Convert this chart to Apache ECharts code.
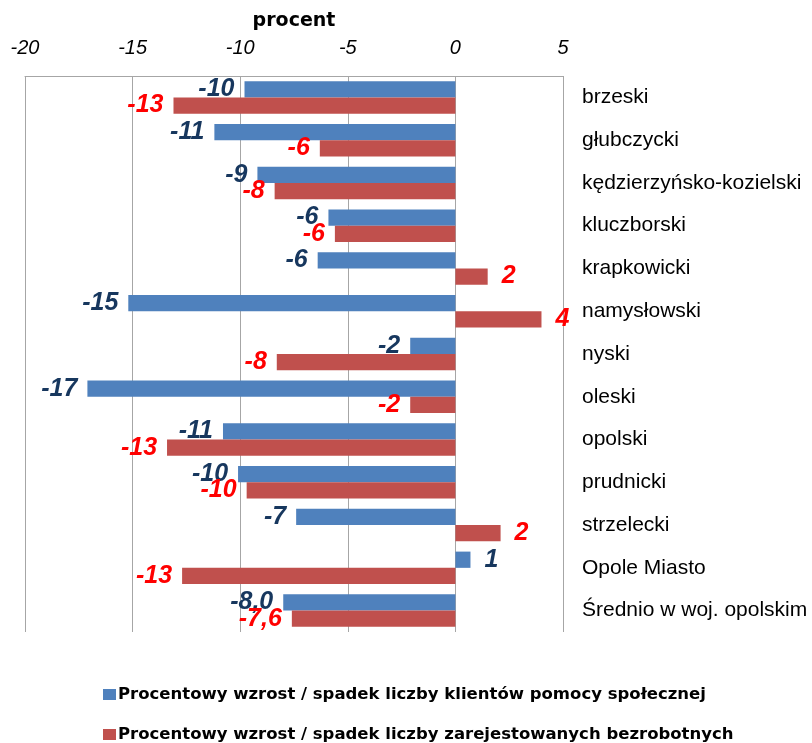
<!DOCTYPE html>
<html>
<head>
<meta charset="utf-8">
<script src="https://cdn.jsdelivr.net/npm/echarts@6/dist/echarts.min.js"></script>
<style>html,body{margin:0;padding:0;background:#fff}#c{width:812px;height:743px}</style>
</head>
<body>
<div id="c"></div>
<script>
var categories = ['brzeski','głubczycki','kędzierzyńsko-kozielski','kluczborski','krapkowicki','namysłowski','nyski','oleski','opolski','prudnicki','strzelecki','Opole Miasto','Średnio w woj. opolskim'];
var seriesNames = ['Procentowy wzrost / spadek liczby klientów pomocy społecznej','Procentowy wzrost / spadek liczby zarejestowanych bezrobotnych'];
var klienci = [-9.8, -11.2, -9.2, -5.9, -6.4, -15.2, -2.1, -17.1, -10.8, -10.1, -7.4, 0.7, -8.0];
var bezrobotni = [-13.1, -6.3, -8.4, -5.6, 1.5, 4.0, -8.3, -2.1, -13.4, -9.7, 2.1, -12.7, -7.6];
var xTicks = [-20, -15, -10, -5, 0, 5];

function fmt(params){
  var v = params.value;
  if (params.dataIndex === categories.length - 1) return v.toFixed(1).replace('.', ',');
  return String(Math.round(v));
}
function build(arr){
  return arr.map(function(v){
    return {value: v, label: {position: v < 0 ? 'left' : 'right', distance: v < 0 ? 10 : 14}};
  });
}
var legendText = {fontFamily: 'DejaVu Sans', fontWeight: 'bold', fontSize: 16.5, color: '#000', padding: [0, 0, 0, -3]};
var chart = echarts.init(document.getElementById('c'));
chart.setOption({
  backgroundColor: '#fff',
  animation: false,
  grid: {left: 25, right: 249, top: 76, bottom: 111, containLabel: false},
  legend: [
    {left: 98, top: 681, itemWidth: 13, itemHeight: 11, itemGap: 0, icon: 'rect', textStyle: legendText, data: [seriesNames[0]]},
    {left: 98, top: 721, itemWidth: 13, itemHeight: 11, itemGap: 0, icon: 'rect', textStyle: legendText, data: [seriesNames[1]]}
  ],
  xAxis: {
    type: 'value', position: 'top', min: xTicks[0], max: xTicks[xTicks.length-1], interval: 5,
    name: 'procent', nameLocation: 'middle', nameGap: 45,
    nameTextStyle: {fontFamily: 'DejaVu Sans', fontWeight: 'bold', fontSize: 19, color: '#000'},
    axisLine: {show: true, lineStyle: {color: '#A6A6A6', width: 1}},
    axisTick: {show: false},
    axisLabel: {fontFamily: 'Liberation Sans', fontStyle: 'italic', fontSize: 20, color: '#000', margin: 18},
    splitLine: {show: true, lineStyle: {color: '#A6A6A6', width: 1}}
  },
  yAxis: {
    type: 'category', data: categories, inverse: true, position: 'right',
    axisLine: {show: false}, axisTick: {show: false},
    axisLabel: {fontFamily: 'Liberation Sans', fontSize: 21, color: '#000', margin: 19}
  },
  series: [
    {
      name: seriesNames[0], type: 'bar', data: build(klienci),
      barGap: '0%', barCategoryGap: '24%',
      itemStyle: {color: '#4F81BD'},
      label: {show: true, formatter: fmt, fontFamily: 'Liberation Sans', fontWeight: 'bold', fontStyle: 'italic', fontSize: 25, color: '#17375E'}
    },
    {
      name: seriesNames[1], type: 'bar', data: build(bezrobotni),
      barGap: '0%', barCategoryGap: '24%',
      itemStyle: {color: '#C0504D'},
      label: {show: true, formatter: fmt, fontFamily: 'Liberation Sans', fontWeight: 'bold', fontStyle: 'italic', fontSize: 25, color: '#FF0000'}
    }
  ]
});
</script>
</body>
</html>
